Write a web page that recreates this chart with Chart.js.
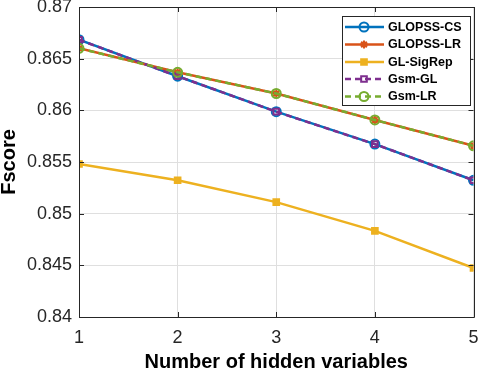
<!DOCTYPE html>
<html>
<head>
<meta charset="utf-8">
<script src="https://cdn.jsdelivr.net/npm/chart.js@4"></script>
<style>
  html, body { margin: 0; padding: 0; background: #fff; }
  #wrap { width: 480px; height: 370px; }
</style>
</head>
<body>
<div id="wrap"><canvas id="chart" width="480" height="370"></canvas></div>
<script>
const hiddenVars = [1, 2, 3, 4, 5];
const glopssCS = [0.86683, 0.86330, 0.85987, 0.85673, 0.85323];
const glopssLR = [0.86600, 0.86368, 0.86163, 0.85907, 0.85657];
const glSigRep = [0.85481, 0.85323, 0.85112, 0.84833, 0.84474];
const gsmGL = [0.86683, 0.86330, 0.85987, 0.85673, 0.85323];
const gsmLR = [0.86600, 0.86368, 0.86163, 0.85907, 0.85657];
const seriesNames = ['GLOPSS-CS', 'GLOPSS-LR', 'GL-SigRep', 'Gsm-GL', 'Gsm-LR'];

const toPoints = arr => arr.map((v, i) => ({ x: hiddenVars[i], y: v }));
const axisColor = '#262626';

function series(name, values, color, style, opts) {
  return Object.assign({
    label: name,
    data: toPoints(values),
    borderColor: color,
    backgroundColor: '#fff',
    pointBorderColor: color,
    pointBackgroundColor: 'rgba(0,0,0,0)',
    borderWidth: 2.5,
    pointBorderWidth: 2,
    pointStyle: style,
    pointRadius: 4.5,
    tension: 0
  }, opts || {});
}

const datasets = [
  series(seriesNames[0], glopssCS, '#0072BD', 'circle', { order: 5 }),
  series(seriesNames[1], glopssLR, '#D95319', 'star', { order: 4, pointRadius: 4 }),
  series(seriesNames[2], glSigRep, '#EDB120', 'rect', { order: 3, pointBackgroundColor: '#EDB120', pointRadius: 4 }),
  series(seriesNames[3], gsmGL, '#7E2F8E', 'rect', { order: 2, borderDash: [6, 4], pointRadius: 4 }),
  series(seriesNames[4], gsmLR, '#77AC30', 'circle', { order: 1, borderDash: [6, 4] })
];

const boxPlugin = {
  id: 'box',
  afterDraw(chart) {
    const { ctx, chartArea: a, scales } = chart;
    ctx.save();
    ctx.strokeStyle = axisColor;
    ctx.lineWidth = 1;
    ctx.beginPath();
    ctx.rect(Math.round(a.left) + 0.5, Math.round(a.top) + 0.5, Math.round(a.right - a.left), Math.round(a.bottom - a.top));
    ctx.stroke();
    // inward ticks on all sides
    const tl = 5;
    ctx.beginPath();
    scales.y.ticks.forEach(t => {
      const y = Math.round(scales.y.getPixelForValue(t.value)) + 0.5;
      ctx.moveTo(a.left, y); ctx.lineTo(a.left + tl, y);
      ctx.moveTo(a.right, y); ctx.lineTo(a.right - tl, y);
    });
    scales.x.ticks.forEach(t => {
      const x = Math.round(scales.x.getPixelForValue(t.value)) + 0.5;
      ctx.moveTo(x, a.bottom); ctx.lineTo(x, a.bottom - tl);
      ctx.moveTo(x, a.top); ctx.lineTo(x, a.top + tl);
    });
    ctx.stroke();

    // legend box
    const bx = 342.5, by = 16.5, bw = 128, bh = 89;
    ctx.fillStyle = '#fff';
    ctx.fillRect(bx, by, bw, bh);
    ctx.strokeStyle = axisColor;
    ctx.strokeRect(bx, by, bw, bh);
    const rowY = [27, 44.5, 62, 79, 96.5];
    ctx.font = 'bold 12.5px "Liberation Sans", Arial, sans-serif';
    ctx.textBaseline = 'middle';
    chart.data.datasets.forEach((ds, i) => {
      const y = rowY[i];
      ctx.save();
      ctx.strokeStyle = ds.borderColor;
      ctx.lineWidth = ds.borderWidth;
      ctx.setLineDash(ds.borderDash || []);
      ctx.beginPath();
      ctx.moveTo(345, y); ctx.lineTo(384, y);
      ctx.stroke();
      ctx.setLineDash([]);
      ctx.strokeStyle = ds.pointBorderColor;
      ctx.fillStyle = ds.pointBackgroundColor;
      ctx.lineWidth = ds.pointBorderWidth;
      Chart.helpers.drawPoint(ctx, { pointStyle: ds.pointStyle, radius: ds.pointRadius, borderWidth: ds.pointBorderWidth, rotation: 0 }, 364, y);
      ctx.restore();
      ctx.fillStyle = '#000';
      ctx.fillText(ds.label, 388, y + 0.5);
    });
    ctx.restore();
  }
};

new Chart(document.getElementById('chart').getContext('2d'), {
  type: 'line',
  data: { datasets },
  options: {
    responsive: false,
    animation: false,
    layout: { padding: { top: 7, right: 6, left: 0, bottom: 0 } },
    plugins: { legend: { display: false }, tooltip: { enabled: false } },
    scales: {
      x: {
        type: 'linear',
        min: 1, max: 5,
        ticks: { stepSize: 1, color: axisColor, padding: 10, font: { size: 18, family: '"Liberation Sans", Arial' } },
        grid: { color: '#dfdfdf', drawTicks: false },
        border: { color: axisColor },
        title: { display: true, text: 'Number of hidden variables', color: '#000', padding: { top: 0, bottom: -4 }, font: { size: 20, weight: 'bold', family: '"Liberation Sans", Arial' } },
        afterFit(scale) {
          scale.height = 53;
          scale.paddingLeft = 0;
          scale.paddingRight = 0;
        }
      },
      y: {
        min: 0.84, max: 0.87,
        ticks: {
          stepSize: 0.005, color: axisColor, padding: 7,
          font: { size: 18, family: '"Liberation Sans", Arial' },
          callback: v => parseFloat(v.toFixed(3)).toString()
        },
        grid: { color: '#dfdfdf', drawTicks: false },
        border: { color: axisColor },
        title: { display: true, text: 'Fscore', color: '#000', padding: { top: -3, bottom: 0 }, font: { size: 20, weight: 'bold', family: '"Liberation Sans", Arial' } },
        afterFit(scale) {
          scale.width = 79;
          scale.paddingTop = 0;
          scale.paddingBottom = 0;
        }
      }
    }
  },
  plugins: [boxPlugin]
});
</script>
</body>
</html>
